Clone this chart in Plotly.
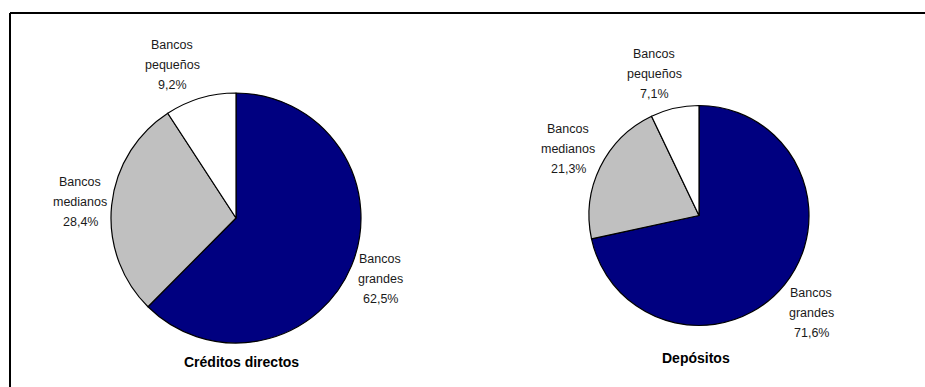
import plotly.graph_objects as go

W, H = 925, 387

# Market share by bank size (%)
categorias = ["Bancos grandes", "Bancos medianos", "Bancos pequeños"]
creditos_directos = [62.5, 28.4, 9.2]
depositos = [71.6, 21.3, 7.1]
titulos = ["Créditos directos", "Depósitos"]
colores = ["#000080", "#C0C0C0", "#FFFFFF"]


def px_x(x):
    return x / W


def px_y(y):
    return 1 - y / H


def pie_domain(cx, cy, r):
    return dict(x=[px_x(cx - r), px_x(cx + r)], y=[px_y(cy + r), px_y(cy - r)])


fig = go.Figure()

paneles = [
    dict(valores=creditos_directos, centro=(236, 218), radio=125,
         etiquetas=[(380, 279), (80, 202), (172, 65)], titulo=(241, 362)),
    dict(valores=depositos, centro=(699, 215.5), radio=110,
         etiquetas=[(811, 313), (568, 149), (654, 74)], titulo=(696, 358)),
]

annotations = []
for panel, titulo in zip(paneles, titulos):
    fig.add_trace(go.Pie(
        labels=categorias,
        values=panel["valores"],
        sort=False,
        direction="clockwise",
        rotation=0,
        marker=dict(colors=colores, line=dict(color="#000000", width=1.2)),
        textinfo="none",
        hoverinfo="label+percent",
        showlegend=False,
        domain=pie_domain(*panel["centro"], panel["radio"]),
    ))
    for cat, val, (lx, ly) in zip(categorias, panel["valores"], panel["etiquetas"]):
        palabras = cat.split(" ")
        lineas = palabras + [f"{val:.1f}%".replace(".", ",")]
        for i, linea in enumerate(lineas):
            annotations.append(dict(
                x=px_x(lx), y=px_y(ly + (i - 1) * 20),
                xref="paper", yref="paper",
                text=linea, showarrow=False,
                xanchor="center", yanchor="middle",
                font=dict(family="Liberation Sans, Arial", size=12.5, color="#1a1a1a"),
            ))
    tx, ty = panel["titulo"]
    annotations.append(dict(
        x=px_x(tx), y=px_y(ty), xref="paper", yref="paper",
        text=f"<b>{titulo}</b>", showarrow=False,
        xanchor="center", yanchor="middle",
        font=dict(family="Liberation Sans, Arial", size=14, color="#000000"),
    ))

# Outer frame (top and left edges)
shapes = [
    dict(type="line", xref="paper", yref="paper",
         x0=px_x(10), x1=px_x(W + 5), y0=px_y(13), y1=px_y(13),
         line=dict(color="#000000", width=2)),
    dict(type="line", xref="paper", yref="paper",
         x0=px_x(10), x1=px_x(10), y0=px_y(13), y1=px_y(H + 5),
         line=dict(color="#000000", width=2)),
]

fig.update_layout(
    width=W, height=H,
    margin=dict(l=0, r=0, t=0, b=0),
    paper_bgcolor="#FFFFFF",
    plot_bgcolor="#FFFFFF",
    annotations=annotations,
    shapes=shapes,
)

fig.write_html("out.html")
